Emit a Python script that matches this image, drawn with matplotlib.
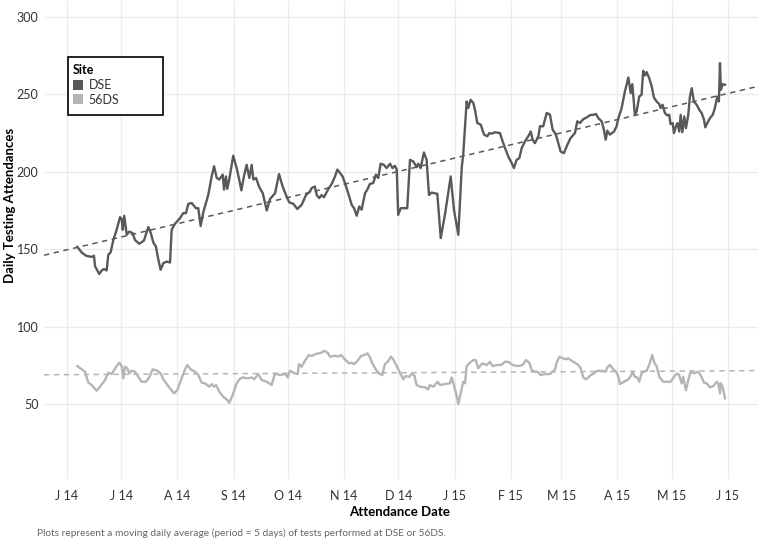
import numpy as np
import pandas as pd
import matplotlib
matplotlib.use("Agg")
import matplotlib.pyplot as plt
import matplotlib.dates as mdates
from matplotlib.patches import Patch, Rectangle
from matplotlib.ticker import FuncFormatter

plt.rcParams['font.family'] = ['Lato', 'DejaVu Sans']

# ---- data (days after 2014-06-01, value) ----
base_date = "2014-06-01"

dse_day = [5.7, 8.1, 10.5, 13.6, 14.9, 15.5, 17.8, 19.2, 20.4, 21.9, 22.8, 24.1, 25.6, 27.4,
           29.3, 30.2, 30.8, 31.6, 33.0, 34.4, 36.3, 37.5, 39.9, 42.5, 44.9, 46.2, 47.7, 49.1,
           50.4, 51.7, 53.2, 55.1, 56.9, 57.8, 59.6, 62.4, 64.2, 65.7, 67.0, 68.9, 71.2, 72.5,
           73.8, 75.3, 78.0, 79.9, 81.2, 82.7, 84.1, 86.0, 86.7, 87.8, 88.5, 89.6, 91.8, 93.7,
           95.1, 96.3, 97.7, 99.2, 100.7, 102.0, 102.9, 104.4, 106.2, 108.1, 110.3, 112.1,
           114.9, 117.1, 119.1, 120.9, 122.8, 125.0, 127.2, 129.6, 132.0, 134.2, 135.1, 136.9,
           137.9, 139.3, 140.6, 141.9, 144.3, 146.2, 148.0, 149.3, 150.8, 152.2, 153.5, 155.3,
           157.2, 158.5, 160.0, 161.4, 162.7, 164.6, 165.8, 167.3, 169.1, 170.6, 171.9, 173.2,
           175.0, 176.5, 178.4, 179.8, 181.1, 182.1, 182.9, 184.3, 185.7, 187.9, 189.4, 191.2,
           193.1, 194.0, 195.3, 197.1, 198.6, 199.9, 201.4, 202.7, 204.5, 206.4, 208.7, 211.9,
           213.7, 216.1, 218.0, 218.8, 220.7, 221.6, 222.9, 224.4, 225.3, 226.6, 228.5, 230.3,
           232.1, 233.2, 234.5, 236.3, 239.1, 240.6, 241.9, 243.7, 245.6, 246.8, 248.3, 249.8,
           251.1, 252.9, 254.7, 256.1, 257.2, 258.4, 260.3, 261.2, 263.0, 264.9, 266.7, 268.2,
           270.0, 271.3, 272.6, 274.4, 276.3, 278.1, 280.5, 281.8, 283.3, 285.1, 287.3, 288.8,
           290.6, 292.1, 293.4, 295.3, 296.5, 297.5, 298.4, 299.8, 302.1, 303.5, 304.4, 306.3,
           308.1, 310.0, 311.3, 312.2, 313.1, 313.6, 314.6, 316.0, 317.3, 318.2, 319.2, 320.1,
           321.5, 322.9, 324.1, 325.6, 327.1, 327.8, 328.9, 330.2, 331.5, 332.6, 333.3, 334.5,
           335.2, 336.3, 337.2, 338.1, 338.9, 339.8, 340.9, 341.8, 343.1, 344.0, 345.0, 346.2,
           347.7, 349.2, 350.5, 351.8, 352.5, 353.6, 355.1, 356.6, 357.8, 359.1, 360.0, 360.6,
           361.1, 362.1, 363.4]
dse_val = [151.5, 147.9, 145.8, 145.0, 145.8, 139.0, 134.0, 136.3, 137.2, 136.3, 146.4, 148.0, 156.0, 162.5,
           170.7, 169.4, 162.5, 171.6, 159.3, 161.4, 160.4, 156.0, 153.5, 155.6, 164.3, 160.8, 154.3, 151.7,
           143.6, 136.7, 141.0, 142.0, 141.4, 162.5, 166.4, 170.0, 173.3, 173.3, 179.3, 179.8, 176.5, 176.5,
           165.0, 174.0, 185.0, 197.0, 203.6, 196.0, 195.0, 198.2, 188.5, 197.0, 189.0, 195.0, 210.4, 202.4,
           195.0, 188.0, 197.0, 204.5, 196.0, 204.5, 195.0, 196.0, 190.0, 186.2, 175.0, 182.4,
           186.2, 198.5, 190.5, 185.0, 180.2, 179.3, 176.0, 178.7, 185.0, 187.3, 189.5, 190.5,
           185.0, 183.0, 185.0, 183.5, 188.8, 192.2, 197.0, 201.4, 199.2, 197.0, 192.7, 186.2,
           178.7, 176.5, 171.6, 177.6, 175.5, 186.2, 188.4, 192.2, 192.7, 198.2, 196.0, 205.2,
           204.5, 202.4, 205.2, 202.4, 203.9, 201.4, 172.2, 176.5, 176.5, 176.5, 207.7, 206.7,
           203.0, 205.2, 202.4, 212.5, 207.7, 185.0, 186.6, 186.2, 185.8, 157.2, 172.2, 197.0,
           175.5, 159.3, 203.0, 211.0, 245.4, 241.2, 246.5, 244.4, 240.0, 231.5, 230.4, 224.0,
           222.9, 225.0, 224.6, 225.5, 225.0, 219.6, 215.3, 209.9, 205.6, 202.4, 207.7, 208.8,
           215.3, 219.6, 222.9, 226.0, 220.6, 218.5, 222.9, 229.4, 229.4, 238.0, 236.9, 227.2,
           224.0, 218.5, 213.1, 212.0, 217.4, 221.8, 225.0, 232.6, 231.5, 234.0, 235.3, 236.6,
           236.8, 237.3, 234.7, 232.5, 227.1, 220.7, 226.5, 224.0, 226.0, 229.4, 234.3, 241.2,
           251.9, 260.9, 250.8, 256.6, 243.3, 236.8, 239.0, 248.6, 249.7, 265.2, 262.2, 264.4,
           260.5, 255.1, 248.0, 245.4, 243.7, 241.2, 243.3, 237.9, 236.4, 236.8, 230.8, 231.4,
           225.0, 229.4, 231.4, 226.0, 236.8, 225.6, 235.7, 228.2, 236.8, 248.6, 254.0, 245.4,
           243.3, 240.0, 237.9, 233.6, 228.7, 231.4, 234.7, 236.8, 241.2, 248.6, 245.4, 270.2,
           253.0, 256.6, 256.2]

ds56_day = [5.7, 8.1, 9.9, 11.8, 13.6, 16.4, 18.2, 21.0, 22.8, 24.7, 27.1, 28.9, 30.2, 31.1,
            32.0, 33.3, 34.4, 35.7, 37.5, 39.4, 41.2, 43.6, 45.4, 47.3, 49.9, 51.7, 53.2, 55.9,
            59.1, 60.9, 63.3, 65.2, 66.4, 68.3, 70.7, 72.5, 74.4, 76.2, 78.6, 79.9, 81.2, 82.3,
            84.5, 86.7, 88.2, 89.6, 91.5, 93.3, 95.1, 97.0, 99.6, 102.0, 103.4, 105.6, 107.5,
            110.3, 111.7, 113.0, 114.9, 117.6, 120.4, 121.9, 123.1, 125.9, 127.4, 128.1, 129.6,
            131.4, 133.6, 135.1, 137.3, 140.3, 142.1, 144.0, 145.2, 148.0, 149.8, 151.3, 153.5,
            155.7, 157.2, 158.6, 160.5, 162.3, 164.2, 166.0, 167.3, 168.6, 170.5, 172.3, 174.1,
            175.6, 177.1, 178.9, 180.2, 182.1, 183.9, 185.7, 187.0, 188.9, 190.3, 191.8, 193.1,
            194.9, 197.7, 199.5, 200.4, 202.3, 204.7, 206.0, 208.7, 211.5, 212.4, 213.9, 215.2,
            216.1, 217.6, 218.8, 219.8, 220.7, 222.5, 224.4, 225.7, 227.1, 229.3, 231.8, 233.6,
            234.9, 237.3, 239.7, 241.9, 243.7, 246.1, 249.2, 251.6, 253.5, 255.3, 256.6, 258.4,
            259.7, 261.6, 263.9, 266.7, 268.2, 269.5, 270.4, 271.9, 274.1, 275.6, 276.8, 278.7,
            280.5, 282.4, 283.7, 285.1, 286.6, 287.9, 289.2, 291.0, 292.8, 295.3, 297.6, 298.4,
            299.8, 301.7, 303.2, 304.4, 305.4, 307.6, 310.0, 311.3, 312.4, 313.6, 314.9, 316.0,
            317.3, 318.6, 320.1, 321.5, 323.2, 324.3, 325.6, 327.1, 329.3, 331.5, 333.4, 335.2,
            336.7, 338.1, 339.4, 340.3, 341.8, 343.1, 344.4, 346.2, 348.6, 349.9, 351.8, 353.3,
            355.1, 356.9, 358.8, 359.7, 360.6, 361.1, 362.1, 363.4]
ds56_val = [74.5, 72.4, 70.9, 63.8, 62.3, 58.6, 61.2, 65.5, 70.2, 69.4, 74.1, 76.7, 74.5, 66.6,
            74.1, 73.1, 69.8, 71.5, 70.9, 67.6, 64.4, 64.4, 67.2, 72.4, 71.5, 69.8, 66.0, 61.6,
            56.9, 59.0, 66.6, 72.4, 75.2, 72.4, 70.9, 68.7, 63.8, 63.4, 61.2, 62.9, 61.2, 62.3,
            57.3, 54.3, 53.0, 50.8, 55.8, 62.3, 66.0, 67.2, 66.6, 67.2, 66.0, 69.4, 65.5,
            64.4, 63.4, 62.3, 69.8, 68.7, 69.5, 67.2, 71.5, 69.8, 69.4, 75.8, 74.1,
            78.0, 81.7, 81.0, 82.3, 83.1, 84.4, 83.1, 80.6, 81.2, 80.6, 81.7, 78.9,
            76.3, 76.7, 75.8, 78.0, 81.0, 81.7, 82.8, 80.2, 76.3, 72.4, 69.8, 68.7,
            75.8, 77.3, 80.6, 78.9, 74.5, 70.2, 66.0, 68.1, 67.6, 69.4, 68.7, 62.3,
            61.2, 60.8, 59.5, 62.3, 61.2, 64.4, 62.3, 62.9, 63.4, 67.2, 61.2, 55.2,
            50.0, 57.9, 64.4, 63.4, 74.5, 76.7, 78.4, 78.4, 73.1, 76.3, 75.2, 77.3,
            74.5, 75.2, 75.2, 77.3, 77.3, 75.2, 74.5, 75.2, 78.4, 76.7, 72.0, 70.9,
            70.9, 68.7, 69.4, 69.4, 70.9, 72.4, 76.7, 80.6, 79.5, 78.9, 79.5, 78.0,
            76.7, 75.2, 73.1, 67.2, 66.0, 67.2, 68.7, 69.8, 71.5, 71.5, 70.9, 73.7,
            75.2, 72.4, 70.9, 68.1, 62.9, 64.4, 66.0, 68.1, 70.9, 67.6, 67.2, 64.4,
            69.8, 70.9, 71.5, 75.2, 81.7, 76.7, 74.5, 67.6, 64.4, 64.4, 64.4, 67.6,
            69.8, 68.7, 63.4, 67.6, 59.0, 65.5, 70.9, 69.8, 70.9, 68.7, 63.8, 63.4,
            60.8, 61.6, 64.4, 63.4, 56.9, 63.4, 60.8, 53.7]

# linear trend lines (values at the left and right edges of the panel)
trend_day = [-12.7, 381.6]
dse_trend = [146.1, 255.2]
ds56_trend = [68.9, 71.6]

sites = ["DSE", "56DS"]
colors = {"DSE": "#595959", "56DS": "#b5b5b5"}

y_ticks = [50, 100, 150, 200, 250, 300]
caption = "Plots represent a moving daily average (period = 5 days) of tests performed at DSE or 56DS."

# ---- plotting ----
W, H = 760, 544
b = pd.Timestamp(base_date)
def to_dates(days):
    return b + pd.to_timedelta(np.asarray(days, dtype=float), unit="D")

fig = plt.figure(figsize=(W / 100, H / 100), dpi=100)
ax = fig.add_axes([44 / W, 1 - 479 / H, 714 / W, 478 / H])

ax.plot(to_dates(trend_day), dse_trend, color=colors["DSE"], lw=1.1, ls=(0, (3.5, 3)))
ax.plot(to_dates(trend_day), ds56_trend, color=colors["56DS"], lw=1.1, ls=(0, (3.5, 3)))
ax.plot(to_dates(dse_day), dse_val, color=colors["DSE"], lw=1.7, solid_joinstyle="round")
ax.plot(to_dates(ds56_day), ds56_val, color=colors["56DS"], lw=1.7, solid_joinstyle="round")

ax.set_xlim(to_dates([-12.7])[0], to_dates([381.6])[0])
ax.set_ylim(1.6, 310.3)
ax.set_yticks(y_ticks)
ax.xaxis.set_major_locator(mdates.MonthLocator())
ax.xaxis.set_major_formatter(FuncFormatter(
    lambda x, pos: mdates.num2date(x).strftime("%b")[0] + " " + mdates.num2date(x).strftime("%y")))

for s in ax.spines.values():
    s.set_visible(False)
ax.grid(True, color="#ebebeb", lw=1.0)
ax.set_axisbelow(True)
ax.tick_params(length=0, labelsize=9, labelcolor="#333333", pad=8)
ax.tick_params(axis="y", pad=4)

fig.text(400 / W, 1 - 512 / H, "Attendance Date", fontsize=9.5, fontweight="bold",
         ha="center", va="center")
fig.text(10 / W, 1 - 205 / H, "Daily Testing Attendances", fontsize=9.5, fontweight="bold",
         ha="center", va="center", rotation=90)
fig.text(37 / W, 1 - 533 / H, caption, fontsize=7.3, color="#666666", va="center", ha="left")

# legend box
fig.patches.append(Rectangle((68 / W, 1 - 115 / H), 95 / W, 58 / H, transform=fig.transFigure,
                             facecolor="white", edgecolor="black", lw=1.2, zorder=5))
handles = [Patch(facecolor=colors[s], edgecolor="none", label=s) for s in sites]
leg = fig.legend(handles=handles, title="Site", loc="upper left",
                 bbox_to_anchor=(70 / W, 1 - 62 / H), bbox_transform=fig.transFigure,
                 borderaxespad=0, fontsize=9, title_fontsize=9, frameon=False,
                 handlelength=0.85, handleheight=0.85, handletextpad=0.45, labelspacing=0.2,
                 borderpad=0.2, alignment="left")
leg.set_zorder(6)
leg.get_title().set_fontweight("bold")
for t in leg.get_texts():
    t.set_color("#333333")

fig.savefig("out.png", dpi=100)
